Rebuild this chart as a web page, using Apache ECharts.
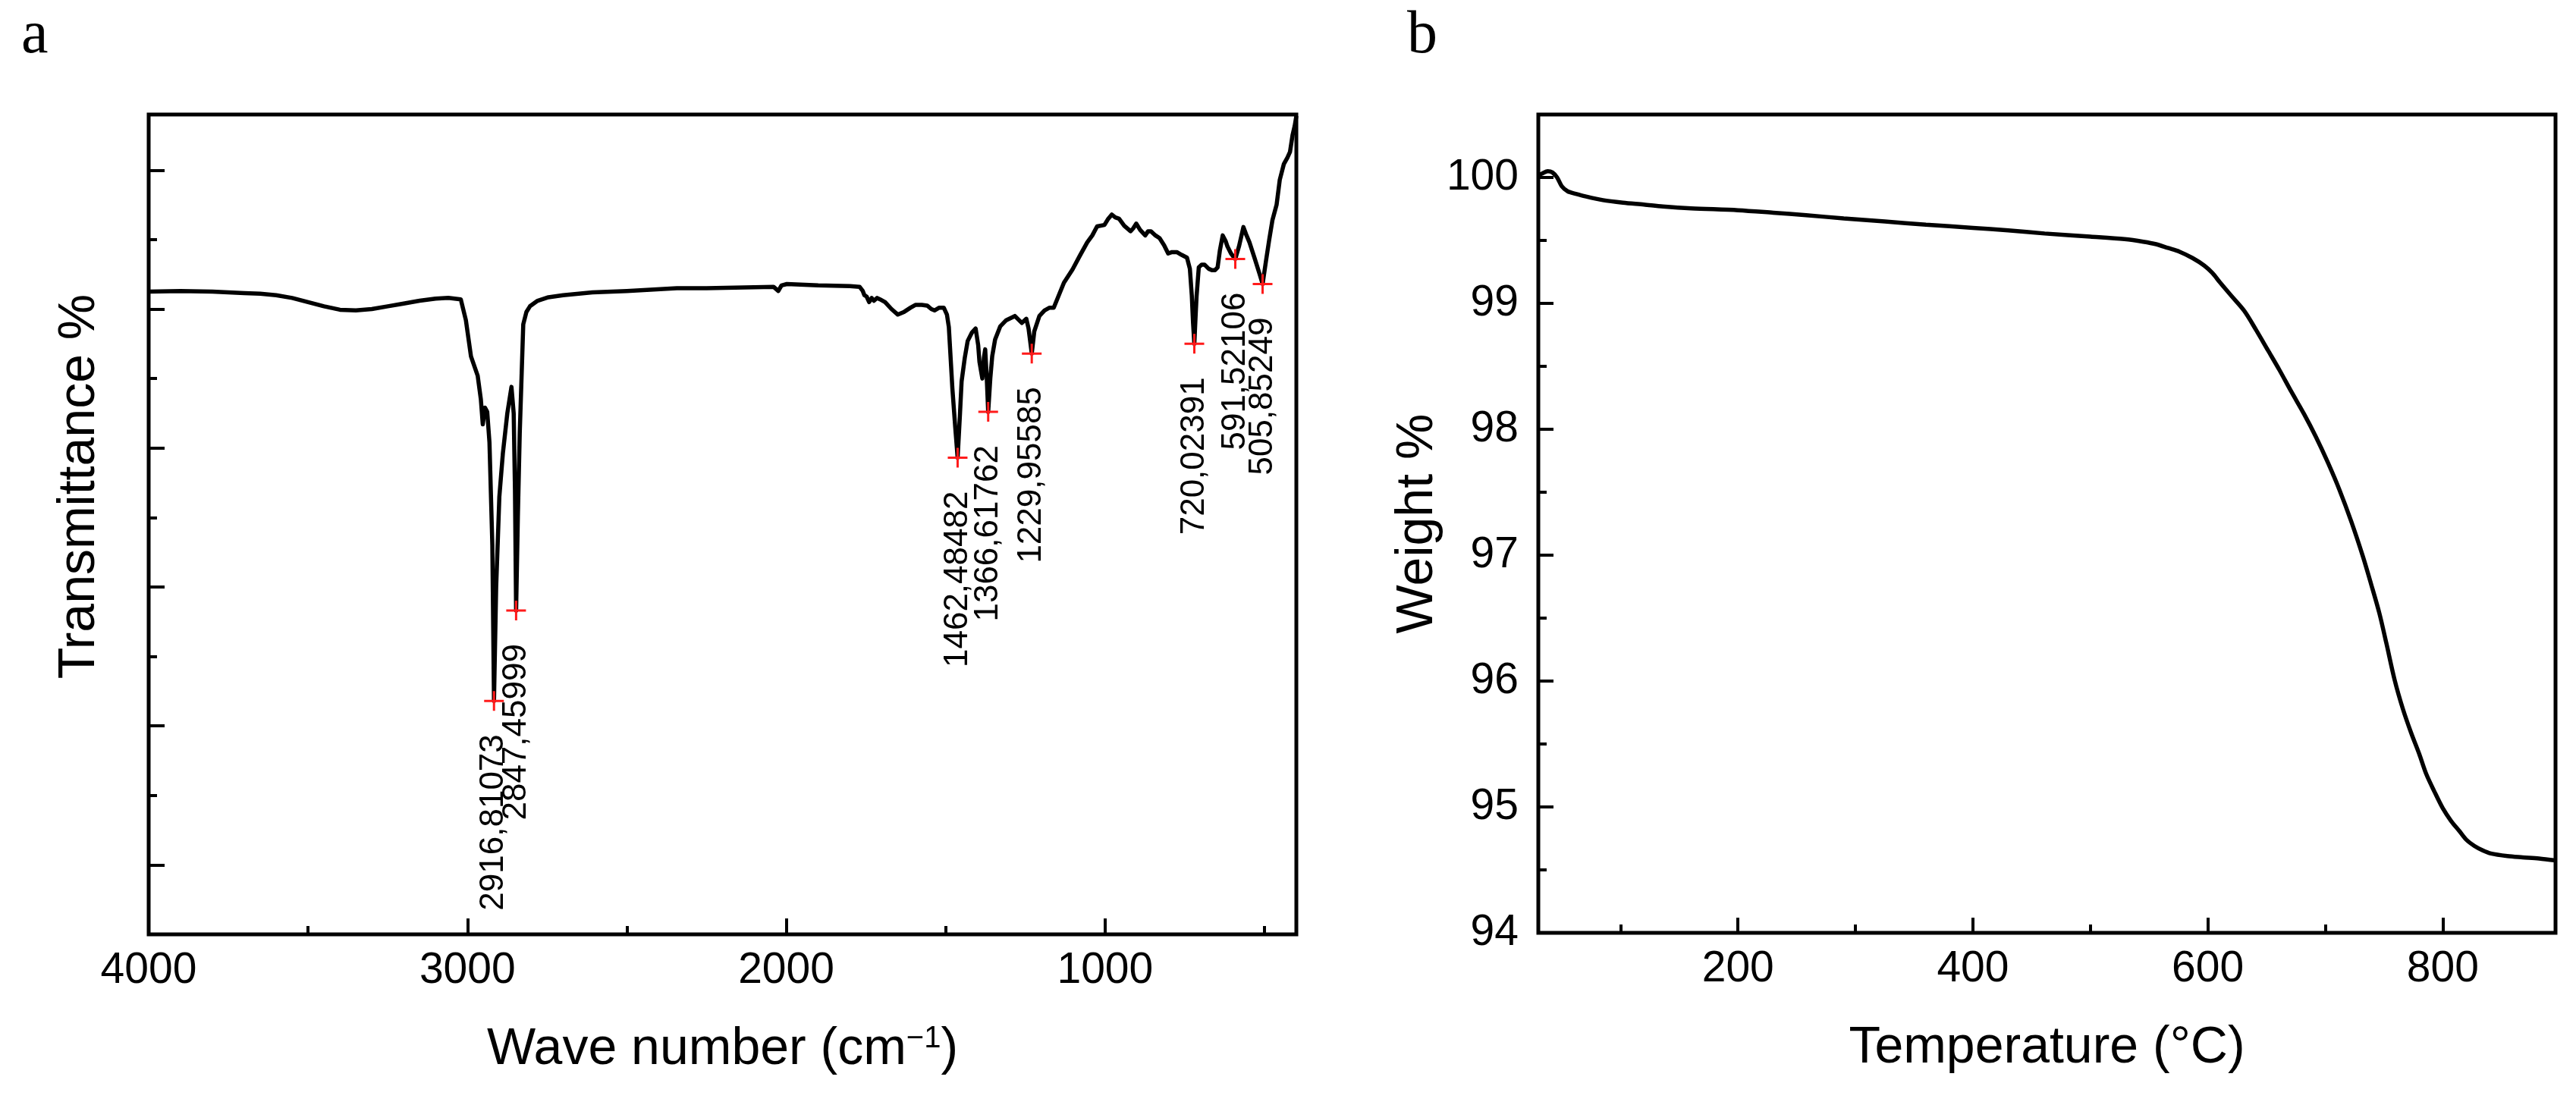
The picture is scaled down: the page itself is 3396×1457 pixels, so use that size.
<!DOCTYPE html>
<html><head><meta charset="utf-8">
<script src="https://cdn.jsdelivr.net/npm/echarts@6/dist/echarts.min.js"></script>
<style>html,body{margin:0;padding:0;background:#fff}#c{width:3396px;height:1457px}</style>
</head><body><div id="c"></div>
<script>
// ---------- Panel a: FTIR spectrum ----------
const irWave = [4000,3900,3800,3700,3650,3600,3550,3500,3450,3400,3350,3300,3250,3200,3150,3100,3060,3021,3005,2989,2968,2958,2952,2945,2938,2931,2922,2916.81,2910,2900,2889,2875,2862,2855,2851,2847.46,2842,2836,2825,2815,2804,2780,2746,2700,2608,2500,2343,2250,2131,2040,2025,2015,1998,1900,1800,1770,1760,1755,1748,1740,1732,1725,1715,1706,1690,1670,1650,1630,1610,1595,1575,1558,1545,1535,1520,1506,1496,1490,1479,1470,1462.48,1455,1450,1440,1431,1418,1406,1398,1394,1385,1380,1376,1371,1366.62,1360,1354,1345,1329,1310,1283,1270,1261,1247,1240,1229.96,1222,1206,1190,1174,1161,1145,1129,1102,1080,1056,1040,1025,1002,990,979,968,956,940,920,912,902,890,874,865,856,842,829,815,802,790,775,760,743,734,728,724,720.02,716,713,706,697,688,675,665,655,647,640,631,622,616,605,591.52,580,566,558,547,530,515,505.85,495,485,475,462,452,439,428,420,412,405,400];
const irTrans = [51.25,51.3,51.25,51.15,51.1,51.0,50.8,50.5,50.2,49.95,49.9,50.0,50.2,50.4,50.6,50.75,50.8,50.7,49.2,46.6,45.2,43.5,41.7,42.9,42.6,40.4,33.0,21.8,30.0,36.5,39.6,42.5,44.4,42.5,37.0,28.3,35.0,41.1,48.9,49.8,50.2,50.6,50.85,51.0,51.2,51.3,51.5,51.5,51.55,51.6,51.3,51.7,51.8,51.7,51.65,51.6,51.3,51.0,50.9,50.5,50.8,50.6,50.8,50.7,50.5,50.0,49.6,49.8,50.1,50.3,50.3,50.25,50.0,49.9,50.1,50.1,49.6,48.7,44.3,41.5,39.3,42.5,44.8,46.5,47.7,48.3,48.6,47.4,46.2,45.0,46.5,47.1,45.0,42.6,45.0,46.6,47.8,48.75,49.2,49.5,49.2,49.0,49.3,48.6,46.8,48.4,49.5,49.9,50.1,50.1,51.0,51.9,52.85,53.8,54.8,55.3,55.95,56.05,56.5,56.8,56.6,56.5,56.0,55.6,55.8,56.15,55.7,55.3,55.6,55.6,55.3,55.1,54.6,54.0,54.1,54.1,53.9,53.7,52.9,51.0,49.0,47.5,49.5,50.9,53.0,53.2,53.2,52.9,52.8,52.8,53.0,54.2,55.3,54.9,54.5,54.0,53.6,54.5,55.9,55.4,54.8,53.6,52.5,51.8,53.5,55.0,56.4,57.5,59.3,60.45,60.9,61.3,62.5,63.2,63.9];
const peakWave = [2916.81073,2847.45999,1462.48482,1366.61762,1229.95585,720.02391,591.52106,505.85249];
const peakTrans = [21.8,28.3,39.3,42.6,46.8,47.5,53.6,51.8];
const peakLabels = ['2916,81073','2847,45999','1462,48482','1366,61762','1229,95585','720,02391','591,52106','505,85249'];
const irXMajor = [4000,3000,2000,1000];
const irXMinor = [3500,2500,1500,500];
const irYMajor = [10,20,30,40,50,60];
const irYMinor = [15,25,35,45,55];

// ---------- Panel b: TGA ----------
const tgaTemp = [30,33,38,42,46,50,55,62,70,85,102,120,136,160,200,230,258,290,325,360,400,430,461,500,529,545,556,566,576,587,597,604,610,620,631,641,651,661,671,682,692,702,712,722,732,739,746,752,759,766,773,780,786,793,800,807,814,820,827,834,841,855,868,882,896];
const tgaWeight = [100.02,100.03,100.05,100.04,100.0,99.93,99.89,99.87,99.85,99.82,99.80,99.785,99.77,99.755,99.74,99.72,99.70,99.675,99.65,99.625,99.60,99.58,99.555,99.53,99.51,99.49,99.47,99.44,99.41,99.36,99.30,99.24,99.17,99.06,98.94,98.79,98.63,98.47,98.30,98.12,97.94,97.74,97.52,97.27,96.99,96.77,96.54,96.30,96.01,95.78,95.59,95.42,95.26,95.12,94.99,94.89,94.81,94.74,94.69,94.655,94.63,94.61,94.60,94.59,94.575];
const tgaXMajor = [200,400,600,800];
const tgaXMinor = [100,300,500,700];
const tgaYMajor = [94,95,96,97,98,99,100];
const tgaYMinor = [94.5,95.5,96.5,97.5,98.5,99.5];

const FONT = '"Liberation Sans", Arial, sans-serif';
const SERIF = '"Liberation Serif", "Times New Roman", serif';
const tickStyle = {width:4, color:'#000'};
const labelStyle = {color:'#000', fontSize:57, fontFamily:FONT, formatter:v=>String(v)};
const nameStyle = {color:'#000', fontSize:68, fontFamily:FONT};

function valAxis(extra){
  return Object.assign({type:'value', axisLine:{show:false}, splitLine:{show:false}, scale:false}, extra);
}

const chart = echarts.init(document.getElementById('c'), null, {renderer:'canvas'});
chart.setOption({
  animation:false,
  backgroundColor:'#fff',
  grid:[
    {left:196, top:151, width:1513, height:1081, show:true, borderColor:'#000', borderWidth:5},
    {left:2028, top:151, width:1341, height:1079, show:true, borderColor:'#000', borderWidth:5}
  ],
  xAxis:[
    valAxis({gridIndex:0, position:'bottom', inverse:true, min:400, max:4000,
      axisTick:{inside:true, length:21, lineStyle:tickStyle, customValues:irXMajor},
      axisLabel:Object.assign({customValues:irXMajor, margin:20}, labelStyle),
      name:'Wave number (cm{sup|−1})', nameLocation:'middle', nameGap:118,
      nameTextStyle:Object.assign({rich:{sup:{fontSize:40, fontFamily:FONT, color:'#000', verticalAlign:'top', padding:[0,0,22,0]}}}, nameStyle)}),
    valAxis({gridIndex:0, position:'bottom', inverse:true, min:400, max:4000,
      axisTick:{inside:true, length:11, lineStyle:tickStyle, customValues:irXMinor},
      axisLabel:{show:false}}),
    valAxis({gridIndex:1, position:'bottom', min:30, max:896,
      axisTick:{inside:true, length:20, lineStyle:tickStyle, customValues:tgaXMajor},
      axisLabel:Object.assign({customValues:tgaXMajor, margin:20}, labelStyle),
      name:'Temperature (°C)', nameLocation:'middle', nameGap:118, nameTextStyle:nameStyle}),
    valAxis({gridIndex:1, position:'bottom', min:30, max:896,
      axisTick:{inside:true, length:11, lineStyle:tickStyle, customValues:tgaXMinor},
      axisLabel:{show:false}})
  ],
  yAxis:[
    valAxis({gridIndex:0, position:'left', min:5, max:64,
      axisTick:{inside:true, length:21, lineStyle:tickStyle, customValues:irYMajor},
      axisLabel:{show:false},
      name:'Transmittance %', nameLocation:'middle', nameGap:57,
      nameTextStyle:Object.assign({padding:[0,0,0,100]}, nameStyle)}),
    valAxis({gridIndex:0, position:'left', min:5, max:64,
      axisTick:{inside:true, length:11, lineStyle:tickStyle, customValues:irYMinor},
      axisLabel:{show:false}}),
    valAxis({gridIndex:1, position:'left', min:94, max:100.5,
      axisTick:{inside:true, length:20, lineStyle:tickStyle, customValues:tgaYMajor},
      axisLabel:Object.assign({customValues:tgaYMajor, margin:26}, labelStyle),
      name:'Weight %', nameLocation:'middle', nameGap:113, nameTextStyle:nameStyle}),
    valAxis({gridIndex:1, position:'left', min:94, max:100.5,
      axisTick:{inside:true, length:11, lineStyle:tickStyle, customValues:tgaYMinor},
      axisLabel:{show:false}})
  ],
  series:[
    {type:'line', xAxisIndex:0, yAxisIndex:0, data:irWave.map((w,i)=>[w, irTrans[i]]),
      showSymbol:false, symbol:'none', lineStyle:{color:'#000', width:5.5, join:'round'}, z:2},
    {type:'scatter', xAxisIndex:0, yAxisIndex:0, data:peakWave.map((w,i)=>[w, peakTrans[i]]),
      symbol:'path://M0,10L20,10M10,0L10,20', symbolSize:26,
      itemStyle:{color:'none', borderColor:'#ff1a1a', borderWidth:3, opacity:1},
      label:{show:true, position:'inside', rotate:90, align:'right', verticalAlign:'middle', offset:[-44,0],
        color:'#000', fontSize:44, fontFamily:FONT, formatter:p=>peakLabels[p.dataIndex]},
      z:3},
    {type:'line', xAxisIndex:2, yAxisIndex:2, data:tgaTemp.map((t,i)=>[t, tgaWeight[i]]),
      showSymbol:false, symbol:'none', smooth:0.3, lineStyle:{color:'#000', width:5.5}, z:2}
  ],
  graphic:[
    {type:'text', left:28, top:8, style:{text:'a', font:'80px ' + SERIF, fill:'#000'}},
    {type:'text', left:1855, top:8, style:{text:'b', font:'80px ' + SERIF, fill:'#000'}}
  ]
});
</script>
</body></html>
